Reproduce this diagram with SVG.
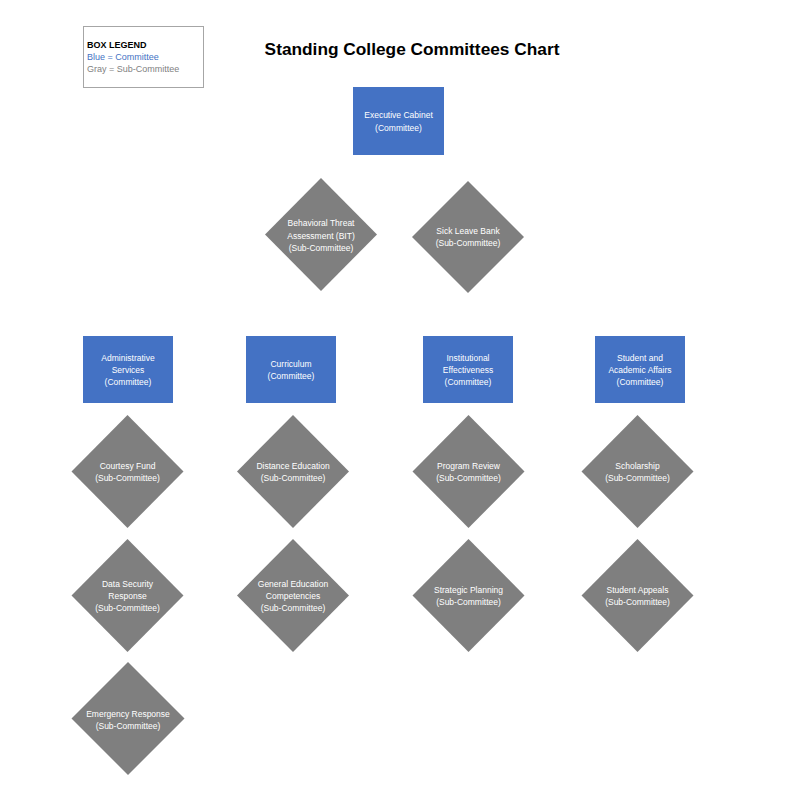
<svg xmlns="http://www.w3.org/2000/svg" width="800" height="800" viewBox="0 0 800 800">
<style>
text{font-family:"Liberation Sans","Noto Sans",sans-serif;}
.c{fill:#4472C4;}
.s{fill:#7F7F7F;}
.t{fill:#FFFFFF;font-size:8.5px;text-anchor:middle;}
.lg{font-size:9px;}
</style>
<rect width="800" height="800" fill="#FFFFFF"/>
<g id="legend">
<rect x="83.5" y="26.5" width="120" height="61" fill="#FFFFFF" stroke="#A6A6A6" stroke-width="1"/>
<text class="lg" x="87" y="48" font-weight="bold" fill="#000000">BOX LEGEND</text>
<text class="lg" x="87" y="60" fill="#4472C4">Blue = Committee</text>
<text class="lg" x="87" y="72" fill="#7F7F7F">Gray = Sub-Committee</text>
</g>
<g id="title">
<text x="412" y="55" font-size="17.3" font-weight="bold" text-anchor="middle" fill="#000000">Standing College Committees Chart</text>
</g>
<g id="connectors"></g>
<g id="executive-cabinet">
<rect class="c" x="353" y="87" width="91" height="68"/>
<text class="t" x="398.5" y="118">Executive Cabinet</text>
<text class="t" x="398.5" y="131">(Committee)</text>
</g>
<g id="bit">
<polygon class="s" points="321,178 377,234.5 321,291 265,234.5"/>
<text class="t" x="321" y="226">Behavioral Threat</text>
<text class="t" x="321" y="239">Assessment (BIT)</text>
<text class="t" x="321" y="251">(Sub-Committee)</text>
</g>
<g id="sick-leave-bank">
<polygon class="s" points="468,181 524,237 468,293 412,237"/>
<text class="t" x="468" y="234">Sick Leave Bank</text>
<text class="t" x="468" y="246">(Sub-Committee)</text>
</g>
<g id="administrative-services">
<rect class="c" x="83" y="336" width="90" height="67"/>
<text class="t" x="128" y="361">Administrative</text>
<text class="t" x="128" y="373">Services</text>
<text class="t" x="128" y="385">(Committee)</text>
</g>
<g id="curriculum">
<rect class="c" x="246" y="336" width="90" height="67"/>
<text class="t" x="291" y="367">Curriculum</text>
<text class="t" x="291" y="379">(Committee)</text>
</g>
<g id="institutional-effectiveness">
<rect class="c" x="423" y="336" width="90" height="67"/>
<text class="t" x="468" y="361">Institutional</text>
<text class="t" x="468" y="373">Effectiveness</text>
<text class="t" x="468" y="385">(Committee)</text>
</g>
<g id="student-academic-affairs">
<rect class="c" x="595" y="336" width="90" height="67"/>
<text class="t" x="640" y="361">Student and</text>
<text class="t" x="640" y="373">Academic Affairs</text>
<text class="t" x="640" y="385">(Committee)</text>
</g>
<g id="courtesy-fund">
<polygon class="s" points="127.5,415 183.5,471.5 127.5,528 71.5,471.5"/>
<text class="t" x="127.5" y="469">Courtesy Fund</text>
<text class="t" x="127.5" y="481">(Sub-Committee)</text>
</g>
<g id="distance-education">
<polygon class="s" points="293,415 349,471.5 293,528 237,471.5"/>
<text class="t" x="293" y="469">Distance Education</text>
<text class="t" x="293" y="481">(Sub-Committee)</text>
</g>
<g id="program-review">
<polygon class="s" points="468.5,415 524.5,471.5 468.5,528 412.5,471.5"/>
<text class="t" x="468.5" y="469">Program Review</text>
<text class="t" x="468.5" y="481">(Sub-Committee)</text>
</g>
<g id="scholarship">
<polygon class="s" points="637.5,415 693.5,471.5 637.5,528 581.5,471.5"/>
<text class="t" x="637.5" y="469">Scholarship</text>
<text class="t" x="637.5" y="481">(Sub-Committee)</text>
</g>
<g id="data-security-response">
<polygon class="s" points="127.5,539 183.5,595.5 127.5,652 71.5,595.5"/>
<text class="t" x="127.5" y="587">Data Security</text>
<text class="t" x="127.5" y="599">Response</text>
<text class="t" x="127.5" y="611">(Sub-Committee)</text>
</g>
<g id="general-education-competencies">
<polygon class="s" points="293,539 349,595.5 293,652 237,595.5"/>
<text class="t" x="293" y="587">General Education</text>
<text class="t" x="293" y="599">Competencies</text>
<text class="t" x="293" y="611">(Sub-Committee)</text>
</g>
<g id="strategic-planning">
<polygon class="s" points="468.5,539 524.5,595.5 468.5,652 412.5,595.5"/>
<text class="t" x="468.5" y="593">Strategic Planning</text>
<text class="t" x="468.5" y="605">(Sub-Committee)</text>
</g>
<g id="student-appeals">
<polygon class="s" points="637.5,539 693.5,595.5 637.5,652 581.5,595.5"/>
<text class="t" x="637.5" y="593">Student Appeals</text>
<text class="t" x="637.5" y="605">(Sub-Committee)</text>
</g>
<g id="emergency-response">
<polygon class="s" points="128,662 184.5,718.5 128,775 71.5,718.5"/>
<text class="t" x="128" y="717">Emergency Response</text>
<text class="t" x="128" y="729">(Sub-Committee)</text>
</g>
</svg>
